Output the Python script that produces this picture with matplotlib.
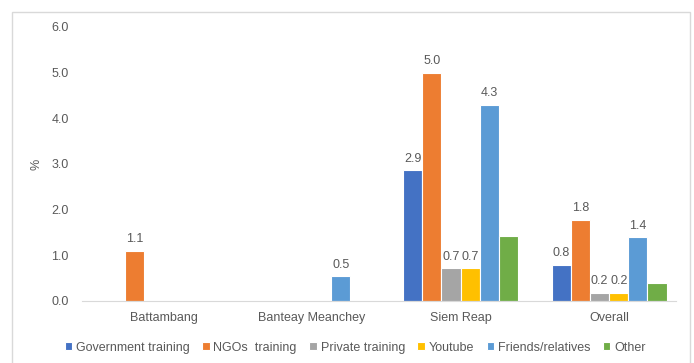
import numpy as np
import matplotlib.pyplot as plt
from matplotlib.patches import Rectangle

plt.rcParams['font.family'] = ['Liberation Sans Narrow', 'Liberation Sans', 'DejaVu Sans']

regions = ['Battambang', 'Banteay Meanchey', 'Siem Reap', 'Overall']
series = ['Government training', 'NGOs  training', 'Private training',
          'Youtube', 'Friends/relatives', 'Other']
gov = [0.0, 0.0, 2.86, 0.79]
ngo = [1.1, 0.0, 5.0, 1.78]
private = [0.0, 0.0, 0.71, 0.18]
youtube = [0.0, 0.0, 0.71, 0.18]
friends = [0.0, 0.54, 4.29, 1.39]
other = [0.0, 0.0, 1.43, 0.39]
show_labels = [True, True, True, True, True, False]

colors = ['#4472C4', '#ED7D31', '#A5A5A5', '#FFC000', '#5B9BD5', '#70AD47']
values = [gov, ngo, private, youtube, friends, other]

fig = plt.figure(figsize=(6.94, 3.63), dpi=100)
ax = fig.add_axes([0.118, 0.171, 0.856, 0.755])

x = np.arange(len(regions))
w = 0.129
for i, (vals, color, name) in enumerate(zip(values, colors, series)):
    pos = x + (i - 2.5) * w
    bars = ax.bar(pos, vals, w, color=color, edgecolor='white', linewidth=0.8, label=name)
    if show_labels[i]:
        for b, v in zip(bars, vals):
            if v > 0:
                ax.text(b.get_x() + b.get_width() / 2, v + 0.12, f'{v:.1f}',
                        ha='center', va='bottom', fontsize=9, color='#595959')

ax.set_ylim(0, 6.0)
ax.set_xlim(-0.55, 3.45)
ax.set_yticks(np.arange(0, 6.01, 1.0))
ax.set_yticklabels([f'{t:.1f}' for t in np.arange(0, 6.01, 1.0)])
ax.set_xticks(x)
ax.set_xticklabels(regions)
ax.tick_params(axis='both', length=0, labelsize=9, colors='#595959', pad=8)
ax.tick_params(axis='y', pad=9.5)
for s in ['top', 'right', 'left']:
    ax.spines[s].set_visible(False)
ax.spines['bottom'].set_color('#D9D9D9')
ax.set_ylabel('%', fontsize=9, color='#595959', labelpad=6)

ax.legend(loc='center', bbox_to_anchor=(0.46, -0.17), ncol=6, frameon=False,
          fontsize=9, handlelength=0.6, handleheight=0.6, handletextpad=0.3,
          columnspacing=1.0, labelcolor='#595959')

fig.patches.append(Rectangle((12 / 694, -0.05), 678 / 694, 1 - 12 / 363 + 0.05,
                             transform=fig.transFigure, fill=False,
                             edgecolor='#D9D9D9', linewidth=1))

fig.savefig('out.png', dpi=100)
